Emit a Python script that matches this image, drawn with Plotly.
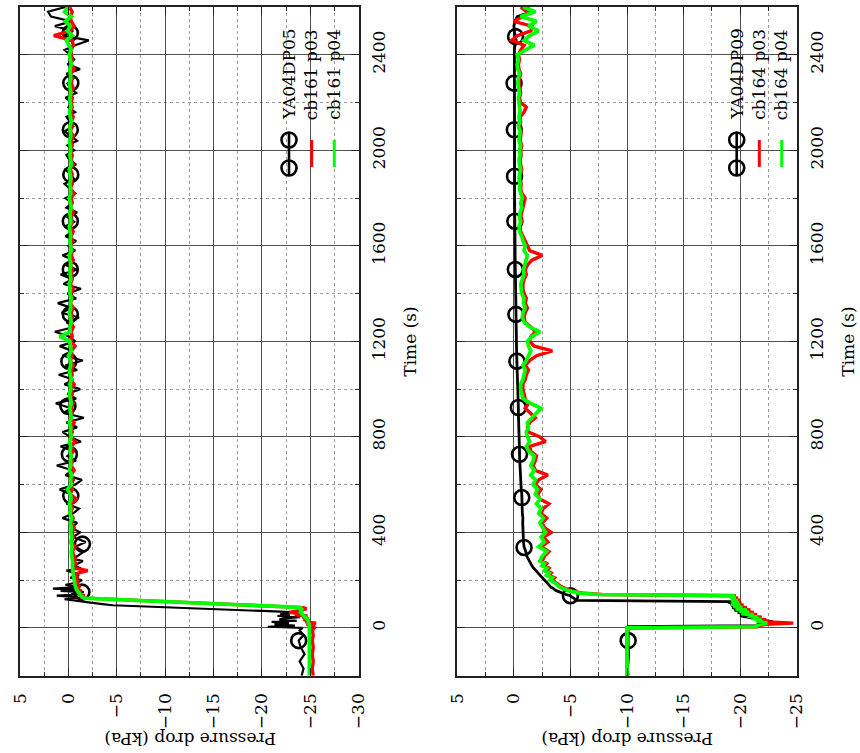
import plotly.graph_objects as go

# ---------------------------------------------------------------------------
# Sample times (s) and pressure drop (kPa) for the two measurement stations
# ---------------------------------------------------------------------------
t_head = [-200, -170, -140, -110, -80, -53, -30, -10,
          0, 5, 10, 15, 20, 25, 30, 35, 40, 45, 50, 55, 60, 65, 70, 75, 80, 85,
          90, 95, 100, 105, 110, 115, 120, 125,
          130, 135, 140, 145, 150, 155, 160, 165, 170, 175, 180,
          190, 200, 210, 220, 230, 240, 250, 260, 270, 280, 290]
t_tail = list(range(300, 2601, 20))
tA = t_head + t_tail

tB_head = [-200, -170, -140, -110, -80, -53, -30, -10,
           0, 5, 10, 15, 20, 25, 30, 35, 40, 45, 50, 55, 60, 65, 70, 75, 80, 85,
           90, 95, 100, 105, 110, 115, 120, 125, 130, 135, 140, 145, 150, 155,
           160, 165, 170, 175, 180,
           190, 200, 210, 220, 230, 240, 250, 260, 270, 280, 290]
tB = tB_head + t_tail

# ---- station YA04DP05 / cb161 ---------------------------------------------
ya04dp05 = [
    -24.1, -24.3, -23.9, -24.4, -24.0, -23.8, -24.3, -23.9,
    -24.2, -20.6, -23.4, -21.3, -22.8, -21.0, -23.6, -21.8, -22.3, -23.9,
    -21.6, -22.9, -21.9, -23.6, -20.7, -17.3, -14.0, -10.7, -7.3, -4.6,
    -3.5, -2.4, -1.4, -0.6, 0.4, -1.2,
    -0.5, 1.2, -1.0, -0.3, -1.6, 0.8, -0.9, 1.6, -0.6, -1.3, 0.3,
    -0.8, -1.4, -0.2, -1.1, -0.7, 0.2, -1.3, -0.6, -1.0, -1.5, -0.4,
    -0.9, -1.6, -0.7, -1.8, -0.5, -1.2, -0.3, -0.9, 0.6, -0.5,
    -1.1, 0.2, -0.6, -0.2, 0.9, -0.7, -1.4, 0.3, -0.4, 1.2,
    -0.8, 0.1, -0.5, 0.8, -1.3, -0.2, 0.6, -0.9, 0.2, -1.6,
    0.5, -0.3, 1.3, -0.8, 0.1, -1.2, 0.4, -0.5, 1.0, -0.9,
    0.3, -1.5, 0.6, -0.4, 0.9, -0.7, -0.1, 1.4, -0.6, 0.2,
    -1.1, 0.7, -0.3, 1.1, -0.8, 0.1, -1.3, 0.5, -0.4, 0.8,
    -0.9, 0.3, -0.6, 0.6, -0.7, 0.0, -0.8, 0.3, -0.5, 0.4,
    -0.6, 0.1, -0.9, 0.2, -0.4, 0.3, -0.7, -0.1, 0.4, -0.6,
    -0.2, 0.3, -0.8, -0.1, 0.2, -0.6, 0.1, -0.9, -0.2, 0.4,
    -0.5, -0.1, 0.2, -0.7, 0.0, -0.4, 0.3, -0.8, -0.2, 0.1,
    -0.5, 0.2, -1.2, 0.1, -0.6, -0.2, 0.4, -0.7, -2.1, 0.6,
    -0.5, 1.4, -0.3, 1.8, 2.1, 0.3]

cb161_p03 = [
    -25.3, -25.2, -25.3, -25.2, -25.3, -25.2, -25.3, -25.2,
    -25.4, -24.9, -25.5, -24.6, -25.6, -24.5, -24.9, -24.3, -24.8, -24.2,
    -24.7, -23.4, -24.0, -22.8, -23.5, -24.2, -24.6, -24.3, -21.9, -19.0,
    -16.1, -13.2, -10.2, -7.3, -4.4, -1.8,
    -1.2, -1.7, -1.0, -1.3, -0.9, -1.4, -0.8, -1.1, -0.9, -1.2, -0.8,
    -1.0, -0.7, -0.9, -0.6, -1.0, -2.0, -0.7, -0.6, -0.8, -0.5, -0.7,
    -0.6, -0.4, -0.7, -0.3, -0.5, -0.4, -0.6, -0.3, -0.5, -0.2,
    -0.4, -0.3, -0.8, -0.2, -0.4, -0.3, -0.5, -0.2, -0.6, -0.3,
    -0.4, -0.2, -0.5, -0.3, -0.7, -0.2, -0.4, -0.3, -0.6, -0.2,
    -0.4, -0.3, -0.5, -0.2, -0.4, -0.3, -0.6, -0.2, -0.4, -0.3,
    -0.5, -0.2, -0.4, -0.3, -0.7, -0.2, -0.4, -0.3, -0.5, -0.2,
    -0.4, -0.3, -0.5, -0.2, -0.4, -0.3, -0.5, -0.2, -0.4, -0.3,
    -0.4, -0.2, -0.5, -0.3, -0.4, -0.2, -0.4, -0.3, -0.5, -0.2,
    -0.4, -0.3, -0.5, -0.2, -0.4, -0.3, -0.6, -0.2, -0.4, -0.3,
    -0.4, -0.2, -0.5, -0.3, -0.4, -0.2, -0.4, -0.3, -0.5, -0.2,
    -0.4, -0.3, -0.5, -0.2, -0.4, -0.3, -0.4, -0.2, -0.5, -0.3,
    -0.4, -0.2, -0.6, -0.3, -0.4, -0.3, -0.3, -0.5, -0.4, 1.5,
    -0.2, -0.6, -0.3, -0.2, -0.4, -0.1]

cb161_p04 = [
    -24.9, -24.9, -24.9, -24.9, -24.9, -24.9, -24.9, -24.9,
    -24.9, -24.9, -24.9, -24.9, -24.8, -24.8, -24.8, -24.7, -24.6, -24.5,
    -24.3, -24.2, -24.1, -24.0, -24.1, -24.0, -24.1, -24.0, -21.7, -18.8,
    -15.8, -12.9, -9.9, -7.0, -4.0, -1.6,
    -1.4, -1.3, -1.2, -1.05, -0.95, -0.9, -0.85, -0.8, -0.75, -0.7, -0.68,
    -0.65, -0.6, -0.55, -0.5, -0.5, -0.45, -0.45, -0.4, -0.45, -0.4, -0.4,
    -0.35, -0.3, -0.4, -0.25, -0.35, -0.25, -0.3, -0.2, -0.35, -0.15,
    -0.25, -0.1, -0.3, -0.2, 0.1, -0.3, -0.2, -0.35, -0.1, -0.25,
    -0.2, -0.3, -0.15, -0.25, -0.1, -0.3, -0.2, -0.25, -0.1, -0.3,
    -0.2, -0.15, -0.3, -0.2, -0.1, -0.25, -0.15, -0.3, -0.2, -0.1,
    -0.25, -0.2, 0.0, -0.3, -0.2, -0.15, 0.9, -0.2, -0.15, -0.3,
    -0.2, -0.1, -0.25, -0.2, -0.3, -0.15, -0.2, -0.1, -0.25, -0.2,
    -0.15, -0.25, -0.2, -0.1, -0.3, -0.2, -0.15, -0.25, -0.2, -0.1,
    -0.25, -0.2, -0.15, -0.3, -0.2, -0.1, -0.25, -0.2, -0.15, -0.25,
    -0.2, -0.1, -0.3, -0.2, -0.15, -0.25, -0.2, -0.1, -0.25, -0.2,
    -0.15, -0.3, -0.2, -0.1, -0.25, -0.2, -0.15, -0.25, -0.2, -0.1,
    -0.25, -0.2, -0.15, -0.3, -0.2, -0.1, -0.3, -0.1, 0.2, -0.4,
    0.1, -0.2, 0.3, -0.3, 0.4, 0.0]

# point symbols drawn along the YA04DP05 record
markA_t = [-53, 150, 351, 553, 727, 929, 1117, 1313, 1501, 1703, 1898, 2086, 2282, 2491]
markA_p = [-23.8, -1.4, -1.45, -0.25, -0.1, 0.05, -0.05, -0.2, -0.2, -0.2, -0.25, -0.2, -0.25, -0.2]

# ---- station YA04DP09 / cb164 ---------------------------------------------
ya04dp09 = [
    -10.1, -10.05, -10.1, -10.15, -10.1, -10.1, -10.05, -10.1,
    -10.1, -10.1, -21.4, -21.6, -22.6, -22.9, -22.4, -21.8, -21.3, -20.4,
    -20.0, -20.7, -20.2, -19.8, -20.1, -19.5, -19.8, -19.3, -19.6, -19.2,
    -19.4, -19.1, -19.2, -5.6, -5.4, -5.3, -5.1, -5.0, -4.6, -4.3,
    -4.0, -3.8, -3.6, -3.5, -3.3, -3.2, -3.1,
    -2.9, -2.7, -2.5, -2.3, -2.1, -1.9, -1.75, -1.6, -1.5, -1.4, -1.3,
    -1.15, -1.05, -0.9, -0.85, -0.85, -0.8, -0.8, -0.78, -0.8, -0.75,
    -0.75, -0.72, -0.7, -0.7, -0.65, -0.62, -0.6, -0.58, -0.55, -0.55,
    -0.52, -0.5, -0.5, -0.48, -0.47, -0.45, -0.45, -0.43, -0.42, -0.42,
    -0.4, -0.4, -0.38, -0.36, -0.35, -0.33, -0.32, -0.3, -0.3, -0.28,
    -0.27, -0.26, -0.25, -0.24, -0.23, -0.22, -0.22, -0.2, -0.2, -0.19,
    -0.18, -0.18, -0.17, -0.16, -0.16, -0.15, -0.15, -0.14, -0.14, -0.13,
    -0.13, -0.12, -0.12, -0.11, -0.11, -0.1, -0.1, -0.1, -0.09, -0.09,
    -0.09, -0.08, -0.08, -0.08, -0.07, -0.07, -0.07, -0.06, -0.06, -0.06,
    -0.06, -0.05, -0.05, -0.05, -0.05, -0.04, -0.04, -0.04, -0.04, -0.04,
    -0.03, -0.03, -0.03, -0.03, -0.03, -0.02, -0.02, -0.02, -0.02, -0.02,
    -0.02, -0.02, -0.01, -0.01, -0.01, -0.01, -0.05, -0.1, -0.2, -0.1,
    -0.05, 0.0, -0.1, -0.3, -1.5, -1.2]

cb164_p03 = [
    -10.0, -10.0, -10.0, -10.0, -10.0, -10.0, -10.0, -10.0,
    -10.0, -21.5, -21.7, -22.3, -24.7, -22.6, -21.8, -22.3, -21.3, -21.9,
    -20.9, -21.5, -20.5, -21.2, -20.2, -20.9, -19.9, -20.6, -19.6, -20.3,
    -19.5, -20.1, -19.5, -20.0, -19.4, -19.8, -19.3, -19.6, -7.8, -6.2,
    -5.5, -5.1, -4.8, -4.5, -4.3, -4.1, -4.0,
    -3.7, -3.4, -3.6, -3.1, -3.3, -2.9, -3.1, -2.7, -2.9, -2.5, -2.6,
    -2.7, -3.1, -2.4, -3.0, -2.6, -3.3, -2.7, -2.5, -2.9, -2.4,
    -2.6, -3.1, -2.3, -2.1, -2.4, -1.9, -2.2, -3.0, -1.9, -1.7,
    -1.9, -2.0, -1.5, -1.4, -2.8, -2.3, -1.3, -1.2, -1.4, -1.9,
    -1.4, -1.0, -1.3, -1.0, -0.9, -0.8, -0.8, -1.0, -1.1, -1.3,
    -1.0, -1.4, -2.0, -3.4, -1.8, -1.4, -1.5, -1.9, -1.5, -1.0,
    -0.9, -1.0, -1.2, -1.0, -1.1, -0.9, -0.8, -0.8, -0.9, -1.1,
    -1.0, -1.2, -1.6, -2.5, -1.4, -1.2, -1.0, -0.8, -0.6, -0.55,
    -0.7, -0.6, -0.7, -0.8, -0.9, -1.0, -0.7, -0.6, -0.65, -0.55,
    -0.6, -0.7, -0.6, -0.55, -0.65, -0.6, -0.7, -0.55, -0.6, -0.65,
    -0.5, -0.6, -0.55, -0.9, -1.1, -0.6, -0.5, -0.6, -0.55, -0.45,
    -0.5, -0.6, -0.45, -0.4, -0.5, -0.4, -0.6, -0.9, 0.2, -0.3,
    -1.5, -1.6, 0.0, -0.8, -1.2, -0.6]

cb164_p04 = [
    -10.0, -10.0, -10.0, -10.0, -10.0, -10.0, -10.0, -10.0,
    -10.0, -21.3, -21.5, -21.8, -22.4, -22.0, -21.4, -21.9, -21.0, -21.6,
    -20.6, -21.2, -20.1, -20.8, -19.9, -20.6, -19.6, -20.2, -19.4, -20.0,
    -19.2, -19.9, -19.3, -19.8, -19.2, -19.6, -19.1, -19.5, -7.5, -5.9,
    -5.3, -4.9, -4.6, -4.3, -4.1, -3.95, -3.85,
    -3.6, -3.2, -3.4, -2.9, -3.1, -2.7, -2.9, -2.5, -2.7, -2.3, -2.4,
    -2.5, -2.9, -2.2, -2.7, -2.4, -2.8, -2.5, -2.3, -2.6, -2.2,
    -2.4, -2.0, -2.3, -1.9, -2.1, -1.7, -1.9, -1.5, -1.8, -1.5,
    -1.7, -1.8, -1.3, -1.1, -1.4, -1.2, -1.1, -1.3, -1.2, -1.6,
    -2.0, -2.4, -1.5, -0.8, -0.7, -0.6, -0.6, -0.8, -0.9, -1.0,
    -0.8, -1.1, -1.3, -1.5, -1.3, -1.2, -1.6, -2.3, -1.4, -0.9,
    -0.75, -0.8, -1.0, -0.85, -0.9, -0.7, -0.65, -0.6, -0.75, -0.9,
    -0.85, -0.95, -1.1, -1.2, -0.9, -1.0, -0.8, -0.7, -0.5, -0.45,
    -0.6, -0.5, -0.55, -0.7, -0.6, -0.75, -0.6, -0.5, -0.55, -0.45,
    -0.5, -0.6, -0.5, -0.45, -0.55, -0.5, -0.6, -0.45, -0.5, -0.55,
    -0.4, -0.5, -0.45, -0.55, -0.5, -0.45, -0.4, -0.5, -0.45, -0.35,
    -0.4, -0.5, -0.35, -0.3, -0.4, -0.3, -1.0, -1.8, -0.9, -1.4,
    -2.2, -1.3, -2.0, -0.6, -1.9, -0.8]

markB_t = [-53, 135, 337, 546, 727, 923, 1117, 1313, 1501, 1703, 1891, 2086, 2281, 2476]
markB_p = [-10.1, -5.0, -0.9, -0.7, -0.5, -0.4, -0.27, -0.18, -0.13, -0.09, -0.06, -0.04, -0.02, -0.15]

# axis ticks
p_ticksA = [5, 0, -5, -10, -15, -20, -25, -30]
p_ticksB = [5, 0, -5, -10, -15, -20, -25]
p_minorA = [2.5, -2.5, -7.5, -12.5, -17.5, -22.5, -27.5]
p_minorB = [2.5, -2.5, -7.5, -12.5, -17.5, -22.5]
t_ticks = [0, 400, 800, 1200, 1600, 2000, 2400]
t_minor = [-200, 200, 600, 1000, 1400, 1800, 2200]

legendA = ["YA04DP05", "cb161 p03", "cb161 p04"]
legendB = ["YA04DP09", "cb164 p03", "cb164 p04"]

# ---------------------------------------------------------------------------
W, H = 860, 753
FONT = "DejaVu Serif"
FSIZE = 17
BLACK, RED, GREEN = "#000000", "#ff0000", "#00ff00"


def fx(x):
    return x / W


def fy(y):
    return 1 - y / H


fig = go.Figure()


def add_panel(xa, ya, t, black, red, green, mt, mp, black_w):
    fig.add_trace(go.Scatter(x=black, y=t, mode="lines", xaxis=xa, yaxis=ya,
                             line=dict(color=BLACK, width=black_w), showlegend=False))
    fig.add_trace(go.Scatter(x=mp, y=mt, mode="markers", xaxis=xa, yaxis=ya,
                             marker=dict(symbol="circle-open", size=15, color=BLACK,
                                         line=dict(width=2.6, color=BLACK)),
                             showlegend=False))
    fig.add_trace(go.Scatter(x=red, y=t, mode="lines", xaxis=xa, yaxis=ya,
                             line=dict(color=RED, width=3.4), showlegend=False))
    fig.add_trace(go.Scatter(x=green, y=t, mode="lines", xaxis=xa, yaxis=ya,
                             line=dict(color=GREEN, width=3.7), showlegend=False))


add_panel("x", "y", tA, ya04dp05, cb161_p03, cb161_p04, markA_t, markA_p, 2.2)
add_panel("x2", "y2", tB, ya04dp09, cb164_p03, cb164_p04, markB_t, markB_p, 2.8)

tickfont = dict(family=FONT, size=FSIZE, color="black")
y_dom = [fy(675.7), fy(7)]


def fmt(v):
    return ("\u2212" + str(-v)) if v < 0 else str(v)


def p_axis(dom, rng, ticks, minor, anchor):
    return dict(domain=dom, range=rng, anchor=anchor, tickmode="array",
                tickvals=ticks, ticktext=[fmt(v) for v in ticks],
                tickangle=-90, tickfont=tickfont, ticklabelstandoff=9,
                showgrid=True, gridcolor="#505050", gridwidth=1,
                minor=dict(tickvals=minor, showgrid=True, gridcolor="#9a9a9a",
                           griddash="dot", gridwidth=1, ticks="inside",
                           ticklen=4, tickcolor="#222"),
                ticks="inside", ticklen=8, tickcolor="#222",
                showline=True, linecolor="#222", linewidth=1.5, mirror="ticks",
                zeroline=False)


def t_axis(anchor):
    return dict(domain=y_dom, range=[-200, 2600], anchor=anchor, side="right",
                tickmode="array", tickvals=t_ticks, ticktext=[str(v) for v in t_ticks],
                tickangle=-90, tickfont=tickfont, ticklabelstandoff=4,
                showgrid=True, gridcolor="#505050", gridwidth=1,
                minor=dict(tickvals=t_minor, showgrid=True, gridcolor="#9a9a9a",
                           griddash="dot", gridwidth=1, ticks="inside",
                           ticklen=4, tickcolor="#222"),
                ticks="inside", ticklen=8, tickcolor="#222",
                showline=True, linecolor="#222", linewidth=1.5, mirror="ticks",
                zeroline=False)


xa = p_axis([fx(20), fx(358.7)], [5, -30], p_ticksA, p_minorA, "y")
xb = p_axis([fx(457.3), fx(796.7)], [5, -25], p_ticksB, p_minorB, "y2")

shapes = []
annotations = []


def add_legend(x0, x1, cols, labels):
    shapes.append(dict(type="rect", xref="paper", yref="paper", layer="between",
                       x0=fx(x0), x1=fx(x1), y0=fy(187), y1=fy(8),
                       fillcolor="white", line=dict(width=0)))
    cb, cr, cg = cols
    shapes.append(dict(type="line", xref="paper", yref="paper",
                       x0=fx(cb), x1=fx(cb), y0=fy(176), y1=fy(133),
                       line=dict(color=BLACK, width=2.6)))
    for cy in (140, 168):
        shapes.append(dict(type="circle", xref="paper", yref="paper",
                           x0=fx(cb - 7.5), x1=fx(cb + 7.5), y0=fy(cy + 7.5), y1=fy(cy - 7.5),
                           line=dict(color=BLACK, width=2.6)))
    for c, col in ((cr, RED), (cg, GREEN)):
        shapes.append(dict(type="line", xref="paper", yref="paper",
                           x0=fx(c), x1=fx(c), y0=fy(167), y1=fy(140),
                           line=dict(color=col, width=3)))
    for c, lab in zip(cols, labels):
        annotations.append(dict(text=lab, x=fx(c), y=fy(122), xref="paper", yref="paper",
                                xanchor="center", yanchor="bottom", textangle=-90,
                                showarrow=False, font=tickfont))


add_legend(278, 347, (289, 311.7, 334.3), legendA)
add_legend(725, 792, (736.7, 759.3, 781.7), legendB)

for cx in (190, 627.5):
    annotations.append(dict(text="Pressure drop (kPa)", x=fx(cx), y=fy(739),
                            xref="paper", yref="paper", xanchor="center", yanchor="middle",
                            textangle=180, showarrow=False, font=tickfont))
for cx in (410, 848):
    annotations.append(dict(text="Time (s)", x=fx(cx), y=fy(341.7),
                            xref="paper", yref="paper", xanchor="center", yanchor="middle",
                            textangle=-90, showarrow=False, font=tickfont))

fig.update_layout(
    width=W, height=H, autosize=False,
    margin=dict(l=0, r=0, t=0, b=0),
    template="none",
    paper_bgcolor="white", plot_bgcolor="white",
    font=dict(family=FONT, size=FSIZE, color="black"),
    showlegend=False,
    xaxis=xa, yaxis=t_axis("x"),
    xaxis2=xb, yaxis2=t_axis("x2"),
    shapes=shapes, annotations=annotations,
)

fig.write_html("out.html")
